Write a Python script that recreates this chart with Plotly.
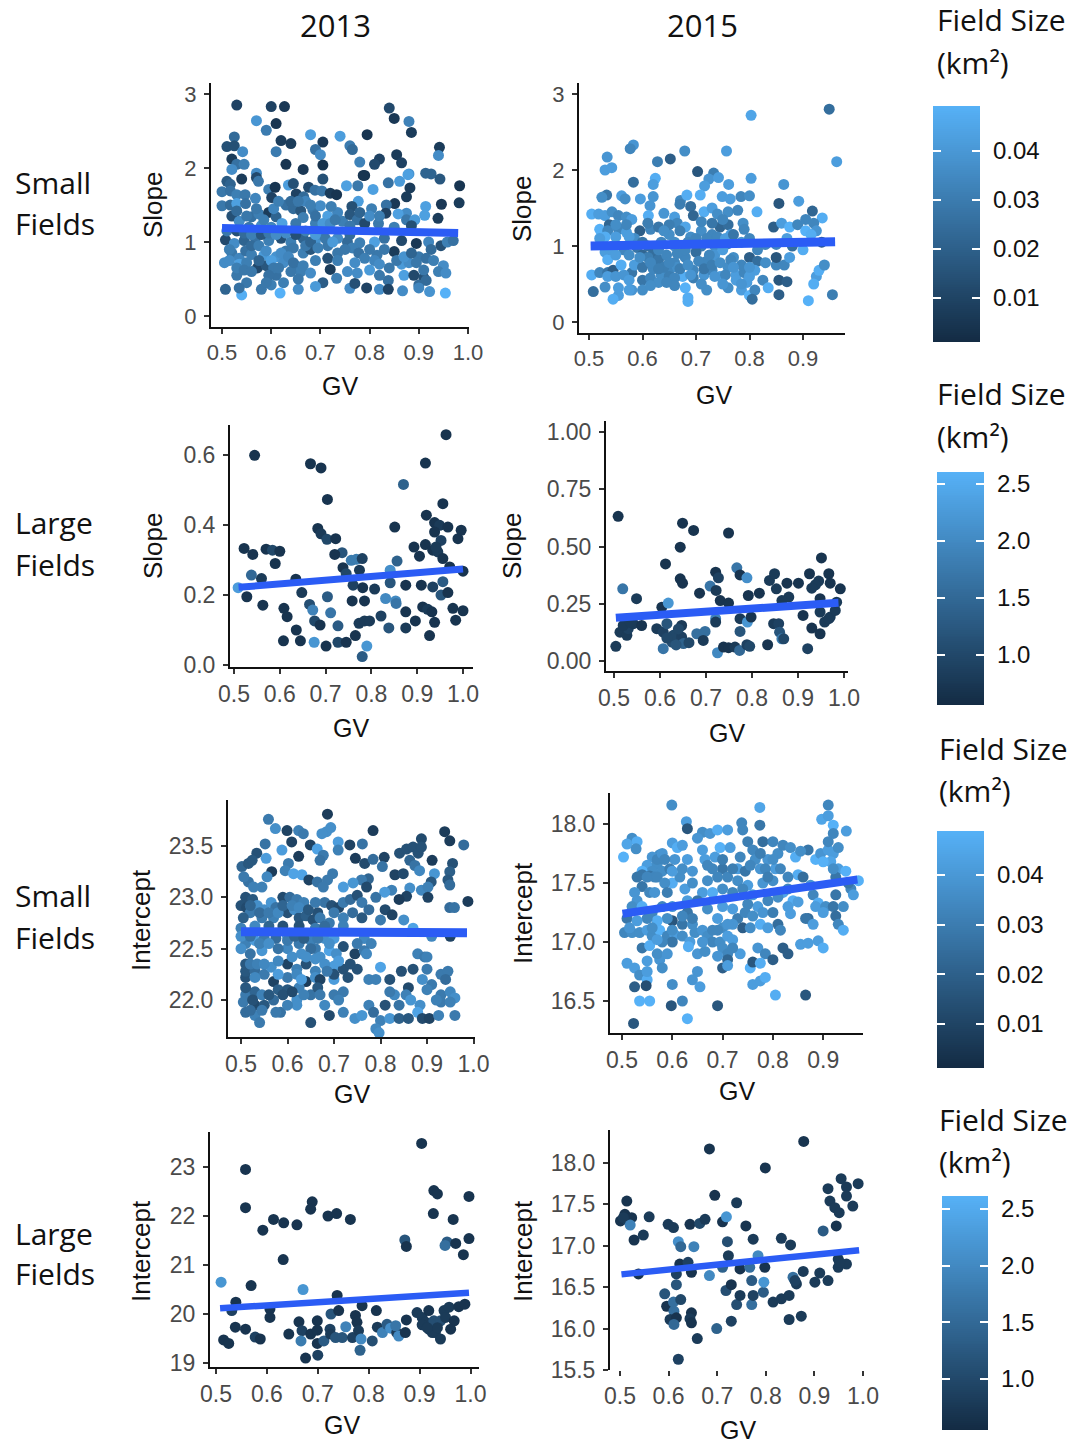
import numpy as np
import plotly.graph_objects as go

# Each point: (GV, value, field size)
small_2013_slope = [
(.53,2.85,.008),(.60,2.83,.008),(.627,2.83,.005),(.84,2.81,.01),(.85,2.67,.005),(.57,2.64,.033),(.59,2.51,.025),(.61,2.6,.004),(.88,2.63,.027),(.885,2.48,.006),
(.68,2.45,.035),(.74,2.43,.035),(.795,2.45,.004),(.525,2.42,.02),(.62,2.37,.006),(.64,2.33,.006),(.705,2.35,.005),(.51,2.29,.012),(.525,2.3,.012),(.542,2.22,.03),
(.61,2.22,.025),(.69,2.25,.022),(.7,2.18,.03),(.76,2.3,.025),(.765,2.25,.02),(.942,2.28,.006),(.94,2.17,.03),(.78,2.08,.027),(.82,2.12,.008),(.81,2.05,.01),
(.855,2.18,.006),(.865,2.07,.008),(.52,2.12,.006),(.53,2.05,.022),(.545,2.05,.026),(.52,1.98,.03),(.63,2.05,.004),(.665,1.98,.005),(.705,2.04,.003),(.57,1.93,.03),
(.925,1.92,.018),(.88,1.92,.032),(.79,1.9,.004),(.57,1.87,.01),(.54,1.85,.006),(.705,1.85,.012),(.51,1.82,.015),(.574,1.82,.024),(.517,1.78,.018),(.595,1.71,.026),
(.608,1.74,.004),(.601,1.6,.008),(.635,1.77,.035),(.645,1.79,.012),(.651,1.65,.008),(.676,1.74,.01),(.666,1.61,.02),(.689,1.7,.022),(.703,1.69,.024),(.72,1.66,.006),
(.733,1.64,.004),(.753,1.76,.036),(.776,1.76,.024),(.807,1.71,.036),(.777,1.55,.035),(.764,1.48,.012),(.787,1.9,.004),(.838,1.8,.022),(.861,1.82,.034),(.878,1.91,.036),
(.882,1.73,.006),(.875,1.61,.006),(.914,1.93,.018),(.943,1.85,.014),(.983,1.76,.004),(.982,1.53,.006),(.946,1.51,.005),(.939,1.32,.006),(.914,1.48,.036),(.912,1.36,.036),
(.851,1.52,.005),(.834,1.5,.022),(.875,1.39,.03),(.858,1.38,.036),(.833,1.39,.008),(.804,1.45,.026),(.818,1.25,.024),(.875,1.3,.024),(.892,1.3,.034),(.5,1.68,.024),
(.517,1.69,.022),(.53,1.64,.026),(.547,1.64,.024),(.5,1.49,.024),(.517,1.5,.02),(.53,1.52,.036),(.568,1.59,.028),(.548,1.52,.022),(.52,1.35,.012),(.535,1.28,.03),
(.56,1.34,.022),(.575,1.38,.026),(.595,1.4,.006),(.61,1.34,.018),(.63,1.5,.022),(.645,1.45,.02),(.622,1.25,.036),(.66,1.42,.014),(.67,1.55,.028),(.665,1.33,.026),
(.685,1.43,.024),(.7,1.49,.03),(.715,1.35,.036),(.735,1.4,.028),(.745,1.28,.026),(.722,1.48,.026),(.76,1.37,.014),(.775,1.3,.022),(.79,1.25,.01),(.8,1.35,.03),
(.69,1.25,.026),(.65,1.25,.024),(.6,1.2,.028),(.555,1.2,.024),(.58,1.22,.03),(.507,1.03,.01),(.525,.98,.03),(.545,1.02,.018),(.568,1.05,.022),(.595,1.02,.026),
(.62,1.05,.012),(.64,1.0,.026),(.665,1.05,.018),(.69,1.02,.032),(.715,.95,.024),(.735,1.05,.03),(.755,1.0,.02),(.78,.99,.026),(.81,1.0,.036),(.83,1.05,.022),
(.865,1.02,.01),(.895,.98,.005),(.92,1.0,.028),(.945,.95,.012),(.958,1.0,.026),(.97,1.02,.022),(.52,.85,.024),(.535,.78,.028),(.548,.88,.022),(.56,.83,.026),
(.585,.82,.034),(.61,.8,.032),(.63,.88,.024),(.645,.92,.024),(.665,.85,.026),(.68,.9,.014),(.715,.78,.012),(.735,.85,.024),(.765,.92,.026),(.778,.85,.022),
(.815,.82,.024),(.85,.87,.006),(.865,.7,.034),(.88,.72,.03),(.9,.8,.024),(.915,.78,.022),(.93,.75,.026),(.95,.68,.03),(.505,.72,.03),(.535,.7,.036),
(.55,.72,.026),(.572,.65,.01),(.59,.68,.014),(.625,.72,.03),(.65,.68,.024),(.69,.75,.026),(.72,.63,.006),(.755,.6,.03),(.775,.58,.03),(.8,.62,.034),
(.82,.55,.024),(.87,.55,.036),(.89,.55,.01),(.91,.52,.012),(.94,.6,.026),(.955,.58,.03),(.53,.55,.024),(.55,.45,.024),(.61,.55,.022),(.625,.45,.026),
(.66,.6,.026),(.68,.58,.03),(.705,.45,.016),(.733,.51,.026),(.76,.375,.03),(.77,.44,.012),(.838,.48,.022),(.9,.42,.02),(.915,.48,.02),(.507,.36,.018),
(.54,.285,.04),(.535,.38,.022),(.58,.36,.024),(.6,.42,.026),(.618,.31,.042),(.655,.36,.03),(.69,.40,.034),(.794,.38,.008),(.82,.36,.03),(.838,.36,.008),
(.867,.34,.03),(.90,.38,.028),(.922,.33,.032),(.954,.31,.044),
(.515,.9,.026),(.515,.75,.03),(.53,.65,.026),(.545,.62,.024),(.56,.6,.024),(.56,.95,.02),(.575,.95,.026),(.575,.75,.018),(.59,.88,.03),(.6,.75,.036),
(.605,.65,.024),(.595,.55,.022),(.59,.45,.024),(.615,.65,.024),(.62,.85,.03),(.635,.8,.028),(.64,.6,.024),(.645,.72,.022),(.655,.5,.024),(.665,.68,.026),
(.67,.95,.024),(.68,1.0,.018),(.695,.92,.026),(.7,1.1,.03),(.71,1.05,.024),(.725,1.0,.034),(.735,.75,.026),(.75,.9,.024),(.76,1.1,.02),(.77,.72,.03),
(.79,.78,.026),(.8,.9,.024),(.81,.75,.028),(.82,.7,.03),(.83,.9,.024),(.84,.65,.024),(.855,.75,.024),(.87,.8,.032),(.885,.85,.018),(.895,.72,.024),
(.91,.62,.024),(.925,.9,.02),(.51,1.15,.024),(.53,1.15,.012),(.545,1.12,.02),(.56,1.1,.026),(.58,1.1,.014),(.595,1.12,.024),(.61,1.1,.03),(.63,1.12,.03),
(.65,1.1,.012),(.67,1.15,.026),(.69,1.1,.034),(.53,1.42,.02),(.55,1.35,.024),(.57,1.45,.024),(.585,1.3,.026),(.605,1.45,.028),(.615,1.55,.026),(.64,1.55,.02),
(.655,1.55,.024),(.68,1.5,.026),(.69,1.35,.022),(.705,1.25,.034),(.72,1.25,.03),(.73,1.3,.024),(.76,1.22,.024),(.78,1.4,.018),(.82,1.35,.026),(.85,1.2,.026),
(.885,1.22,.012),
]
small_2015_slope = [
(.949,2.8,.018),(.803,2.72,.032),(.963,2.11,.03),(.583,2.33,.028),(.577,2.28,.024),(.534,2.17,.028),(.53,2.0,.03),(.5425,2.03,.03),(.628,2.11,.022),(.652,2.145,.014),
(.679,2.25,.026),(.757,2.25,.03),(.703,1.98,.012),(.733,1.96,.022),(.724,1.88,.028),(.742,1.9,.03),(.803,1.89,.03),(.864,1.81,.028),(.583,1.84,.018),(.624,1.89,.034),
(.62,1.81,.03),(.716,1.79,.03),(.761,1.81,.03),(.533,1.67,.02),(.524,1.64,.026),(.561,1.66,.03),(.5675,1.62,.026),(.596,1.62,.03),(.62,1.65,.028),(.614,1.53,.028),
(.671,1.6,.024),(.683,1.67,.034),(.708,1.67,.034),(.749,1.65,.03),(.764,1.62,.03),(.784,1.65,.024),(.80,1.66,.026),(.892,1.59,.03),(.855,1.56,.012),(.814,1.45,.034),
(.9175,1.46,.016),(.936,1.37,.034),(.505,1.42,.034),(.518,1.42,.03),(.53,1.4,.03),(.543,1.45,.026),(.555,1.4,.024),(.57,1.38,.026),(.58,1.35,.03),(.611,1.4,.034),
(.64,1.43,.028),(.66,1.38,.03),(.67,1.55,.022),(.69,1.52,.018),(.695,1.4,.016),(.715,1.45,.034),(.73,1.5,.03),(.74,1.42,.026),(.76,1.45,.026),(.778,1.47,.024),
(.788,1.3,.026),(.79,1.22,.024),(.845,1.25,.014),(.86,1.3,.03),(.875,1.25,.036),(.89,1.28,.024),(.905,1.35,.024),(.92,1.3,.024),(.925,1.2,.028),(.905,1.2,.036),
(.52,1.22,.036),(.538,1.28,.016),(.535,1.2,.024),(.555,1.22,.024),(.57,1.18,.03),(.595,1.2,.014),(.615,1.22,.024),(.63,1.25,.02),(.65,1.15,.026),(.665,1.3,.024),
(.68,1.25,.032),(.69,1.12,.026),(.71,1.2,.026),(.73,1.15,.024),(.745,1.25,.016),(.76,1.28,.018),(.765,1.15,.03),(.85,1.02,.024),(.87,1.1,.03),(.915,1.15,.034),
(.525,1.05,.03),(.545,1.0,.028),(.565,.95,.024),(.59,.98,.02),(.61,1.0,.018),(.635,1.05,.024),(.66,1.0,.026),(.685,1.05,.024),(.71,1.0,.022),(.735,1.0,.026),
(.76,1.03,.024),(.785,1.05,.028),(.83,1.02,.024),(.88,1.0,.018),(.9,.95,.034),(.935,1.05,.012),(.53,.92,.03),(.535,.82,.034),(.6,.88,.016),(.62,.9,.018),
(.63,.82,.02),(.645,.88,.024),(.66,.78,.024),(.68,.85,.024),(.7,.92,.018),(.72,.8,.024),(.735,.88,.028),(.75,.95,.03),(.77,.85,.026),(.8,.85,.014),
(.815,.8,.018),(.83,.78,.026),(.85,.75,.024),(.865,.75,.024),(.875,.85,.03),(.85,.85,.012),(.505,.62,.034),(.52,.65,.024),(.535,.65,.02),(.545,.68,.014),
(.58,.65,.02),(.585,.75,.03),(.6,.55,.02),(.615,.58,.024),(.635,.62,.026),(.65,.68,.024),(.665,.72,.026),(.675,.6,.034),(.695,.68,.024),(.715,.62,.028),
(.73,.68,.024),(.745,.6,.03),(.76,.72,.026),(.775,.62,.03),(.79,.65,.024),(.81,.68,.03),(.825,.55,.024),(.835,.45,.034),(.855,.55,.012),(.87,.53,.014),
(.925,.6,.03),(.93,.68,.034),(.94,.75,.026),(.92,.5,.034),(.53,.46,.026),(.508,.4,.018),(.555,.35,.03),(.545,.3,.034),(.58,.42,.028),(.6,.42,.026),
(.63,.52,.026),(.68,.45,.04),(.685,.32,.034),(.685,.27,.034),(.72,.42,.026),(.76,.45,.026),(.785,.42,.03),(.8,.35,.036),(.81,.42,.024),(.805,.3,.018),
(.795,.52,.03),(.855,.36,.014),(.91,.28,.04),(.955,.36,.022),
(.55,1.28,.026),(.57,1.28,.024),(.585,1.1,.026),(.6,1.05,.02),(.61,.85,.022),(.6,.72,.02),(.62,.7,.024),(.64,.72,.022),(.65,.6,.022),(.66,.58,.024),
(.67,.7,.022),(.685,.75,.026),(.695,.58,.022),(.705,.8,.024),(.715,.7,.02),(.725,.88,.024),(.73,.75,.022),(.745,.78,.026),(.755,.62,.024),(.765,.82,.024),
(.775,.55,.03),(.785,.75,.024),(.8,.6,.03),(.815,.95,.024),(.535,.6,.03),(.55,.6,.028),(.565,.62,.028),(.575,.55,.03),(.56,.75,.034),(.54,.95,.03),
(.55,.88,.03),(.575,.88,.026),(.595,.85,.026),(.615,.78,.024),(.63,.7,.022),(.65,.78,.024),(.665,.9,.024),(.68,.95,.024),(.7,1.1,.024),(.72,1.1,.024),
(.74,1.12,.024),(.755,1.1,.03),(.77,1.15,.02),(.8,1.1,.024),(.67,1.2,.022),(.65,1.28,.022),(.64,1.2,.026),(.61,1.3,.022),(.575,1.12,.03),(.55,1.12,.03),
(.53,1.12,.034),(.52,1.1,.03),(.71,1.32,.024),(.73,1.3,.02),(.75,1.35,.024),(.66,1.05,.026),(.63,.95,.024),(.735,.6,.028),(.69,.62,.028),(.71,.5,.026),
(.75,.5,.028),(.77,.72,.028),(.8,.72,.028),(.785,.5,.028),(.66,.48,.024),(.645,.52,.024),(.615,.48,.026),(.575,.42,.03),(.555,.45,.03),
]
large_2013_slope = [
(.545,.599,.7),(.667,.575,.7),(.69,.563,.7),(.704,.473,.7),(.683,.39,.7),(.69,.375,.8),(.703,.359,1.0),(.722,.361,.7),(.522,.333,.7),(.541,.316,.7),
(.57,.331,.7),(.584,.328,1.0),(.6,.325,.7),(.59,.29,.7),(.538,.257,1.5),(.56,.247,.8),(.509,.221,2.3),(.528,.195,.7),(.563,.171,.7),(.635,.245,.7),
(.648,.207,.8),(.609,.162,.7),(.616,.138,.7),(.636,.1,.7),(.645,.069,.7),(.608,.069,.7),(.665,.173,1.1),(.672,.157,1.9),(.676,.126,1.0),(.688,.114,.7),
(.675,.065,2.2),(.701,.054,.7),(.704,.195,1.3),(.711,.149,1.7),(.727,.112,1.3),(.727,.065,1.0),(.745,.065,.7),(.738,.278,.7),(.745,.261,1.0),(.736,.321,1.2),
(.72,.316,.7),(.756,.299,1.8),(.767,.302,1.8),(.78,.304,.9),(.774,.271,.8),(.76,.228,.9),(.781,.221,.7),(.758,.183,.7),(.785,.183,.7),(.807,.217,.8),
(.765,.084,.7),(.773,.119,.8),(.785,.126,.8),(.796,.126,.8),(.78,.024,1.3),(.79,.054,2.2),(.821,.14,.9),(.838,.106,1.2),(.831,.19,2.0),(.853,.183,2.0),
(.854,.176,1.7),(.841,.235,1.2),(.841,.271,2.1),(.856,.297,1.4),(.851,.394,.7),(.87,.516,1.4),(.875,.228,.7),(.875,.152,.7),(.875,.106,.8),(.896,.126,.7),
(.893,.337,.7),(.909,.228,.7),(.92,.428,.7),(.918,.577,.7),(.918,.344,.7),(.905,.311,.7),(.912,.166,.7),(.923,.159,.8),(.932,.152,.7),(.934,.223,.9),
(.927,.084,.7),(.938,.122,.7),(.963,.658,.7),(.956,.461,.7),(.938,.407,.7),(.949,.399,.8),(.967,.394,.7),(.938,.38,.7),(.952,.356,.9),(.934,.328,.7),
(.945,.323,.8),(.941,.337,.8),(.956,.304,.7),(.956,.238,1.3),(.952,.2,1.2),(.967,.207,.7),(.971,.28,.7),(.978,.162,.7),(.984,.128,.7),(1.0,.155,.7),
(.989,.361,.7),(.996,.385,.7),(1.0,.268,.7),
]
large_2015_slope = [
(.509,.632,.7),(.519,.315,1.7),(.549,.272,.8),(.504,.064,.8),(.513,.126,.8),(.528,.112,.8),(.531,.141,.9),(.52,.155,.8),(.542,.163,.8),(.56,.155,.7),
(.535,.17,.8),(.649,.602,.7),(.673,.57,.7),(.644,.497,.7),(.612,.424,.7),(.749,.559,.7),(.644,.359,.7),(.649,.34,.7),(.686,.296,.7),(.604,.235,.7),
(.618,.253,2.2),(.593,.141,.8),(.607,.126,.9),(.615,.163,1.2),(.626,.083,1.1),(.607,.054,1.7),(.629,.112,1.0),(.647,.155,.8),(.647,.105,.9),(.651,.076,1.4),
(.663,.08,1.0),(.68,.119,1.6),(.698,.129,1.6),(.694,.09,.8),(.709,.327,1.7),(.721,.388,.7),(.727,.363,.9),(.722,.308,.8),(.731,.264,.7),(.749,.253,.7),
(.721,.185,1.9),(.721,.17,.8),(.725,.036,2.0),(.738,.061,.7),(.749,.058,.7),(.763,.061,.8),(.773,.046,1.5),(.767,.407,1.7),(.774,.376,.7),(.789,.363,2.1),
(.774,.185,.8),(.774,.129,1.2),(.79,.17,2.2),(.798,.192,.7),(.789,.071,.9),(.795,.064,1.0),(.792,.286,.7),(.816,.296,.7),(.834,.071,.7),(.838,.352,.8),
(.849,.381,.8),(.853,.315,.8),(.847,.163,.8),(.858,.163,.9),(.86,.126,1.2),(.865,.097,1.8),(.869,.097,1.0),(.876,.34,.7),(.88,.279,.8),(.865,.264,.8),
(.901,.34,.7),(.925,.381,.7),(.911,.199,.7),(.921,.054,.9),(.93,.144,.7),(.948,.119,.7),(.951,.45,.7),(.945,.349,.8),(.938,.333,.8),(.93,.318,.8),
(.948,.272,.7),(.948,.214,.8),(.967,.381,.7),(.97,.34,.7),(.958,.17,.8),(.97,.192,.8),(.981,.221,.8),(.992,.315,.7),(.984,.257,.8),(.967,.185,.8),
(.64,.14,1.0),(.615,.1,1.0),(.635,.07,1.2),
]
small_2013_intercept = [
(.686,23.81,.006),(.559,23.76,.024),(.574,23.67,.03),(.599,23.65,.008),(.624,23.65,.026),(.634,23.62,.024),(.684,23.64,.03),(.693,23.68,.03),(.674,23.62,.03),(.784,23.65,.006),
(.938,23.64,.006),(.949,23.55,.006),(.888,23.57,.01),(.979,23.51,.02),(.552,23.52,.022),(.609,23.54,.008),(.649,23.51,.008),(.709,23.54,.034),(.734,23.51,.008),(.761,23.52,.022),
(.664,23.47,.036),(.709,23.46,.026),(.677,23.41,.024),(.588,23.46,.034),(.534,23.43,.012),(.624,23.4,.006),(.554,23.38,.034),(.602,23.33,.024),(.67,23.36,.022),(.746,23.38,.006),
(.766,23.33,.01),(.784,23.37,.02),(.808,23.39,.008),(.841,23.43,.012),(.856,23.47,.012),(.87,23.49,.012),(.881,23.43,.012),(.888,23.49,.012),(.863,23.36,.018),(.874,23.31,.022),
(.911,23.36,.006),(.955,23.33,.012),(.502,23.3,.018),(.516,23.33,.014),(.524,23.36,.014),(.804,23.3,.022),(.595,23.26,.026),(.613,23.23,.036),(.631,23.22,.036),(.566,23.25,.006),
(.556,23.2,.028),(.831,23.22,.008),(.849,23.23,.01),(.884,23.26,.028),(.916,23.23,.032),(.949,23.25,.016),(.945,23.17,.014),(.697,23.23,.024),(.686,23.17,.024),(.646,23.17,.008),
(.664,23.15,.022),(.774,23.18,.018),(.759,23.17,.024),(.741,23.14,.032),(.72,23.1,.034),(.677,23.1,.024),(.909,23.15,.014),(.949,23.12,.02),(.516,23.15,.022),(.506,23.2,.024),
(.545,23.1,.026),(.527,23.1,.026),(.77,23.1,.01),(.824,23.07,.026),(.809,23.05,.034),(.863,23.09,.03),(.888,23.07,.028),(.902,23.1,.026),(.902,23.0,.008),(.856,23.01,.008),
(.988,22.96,.006),(.949,22.9,.02),(.959,22.9,.022),(.51,23.0,.012),(.525,22.98,.014),(.5,22.92,.012),(.512,22.9,.01),(.535,22.92,.03),(.52,22.85,.024),(.505,22.8,.016),
(.55,22.88,.03),(.565,22.95,.032),(.575,22.9,.022),(.59,23.0,.01),(.605,23.0,.02),(.62,22.98,.024),(.635,22.95,.026),(.6,22.85,.012),(.615,22.88,.03),(.57,22.8,.026),
(.545,22.8,.024),(.625,22.8,.014),(.64,22.82,.016),(.655,22.78,.012),(.665,22.85,.012),(.68,22.95,.022),(.695,22.92,.012),(.71,22.9,.01),(.72,22.95,.024),(.735,22.98,.02),
(.75,23.02,.012),(.76,22.95,.024),(.775,22.88,.02),(.79,23.0,.022),(.81,22.88,.01),(.825,22.83,.008),(.84,22.98,.006),(.85,22.78,.03),(.8,22.78,.024),(.72,22.8,.026),
(.69,22.75,.024),(.5,22.7,.026),(.53,22.72,.028),(.56,22.72,.018),(.59,22.72,.012),(.625,22.72,.012),(.66,22.7,.024),(.87,22.7,.036),(.51,22.55,.026),(.53,22.58,.034),
(.55,22.6,.024),(.575,22.6,.02),(.6,22.62,.032),(.625,22.55,.024),(.65,22.58,.026),(.68,22.6,.03),(.7,22.6,.034),(.72,22.52,.012),(.765,22.6,.028),(.78,22.55,.026),
(.91,22.62,.028),(.95,22.62,.008),(.5,22.5,.03),(.52,22.45,.022),(.545,22.48,.032),(.6,22.5,.028),(.63,22.45,.03),(.66,22.5,.024),(.69,22.48,.036),(.745,22.45,.008),
(.765,22.48,.024),(.88,22.45,.026),(.895,22.42,.024),(.51,22.35,.014),(.51,22.22,.012),(.51,22.28,.014),(.53,22.28,.02),(.55,22.25,.024),(.565,22.32,.03),(.6,22.35,.008),
(.62,22.3,.026),(.64,22.35,.012),(.66,22.28,.026),(.7,22.33,.034),(.72,22.3,.012),(.73,22.22,.012),(.87,22.3,.012),(.845,22.28,.012),(.9,22.3,.024),(.93,22.25,.024),
(.945,22.28,.024),(.8,22.32,.036),(.53,22.22,.028),(.57,22.18,.008),(.6,22.22,.024),(.62,22.25,.028),(.64,22.18,.006),(.66,22.22,.03),(.67,22.2,.008),(.7,22.2,.034),
(.775,22.2,.026),(.79,22.2,.026),(.82,22.2,.012),(.89,22.2,.03),(.91,22.15,.024),(.94,22.2,.02),(.86,22.12,.01),(.51,22.05,.024),(.53,22.08,.018),(.545,22.05,.026),
(.58,22.1,.016),(.6,22.1,.014),(.625,22.12,.026),(.65,22.05,.022),(.7,22.05,.024),(.72,22.08,.024),(.71,22.0,.026),(.83,22.05,.028),(.855,22.05,.026),(.93,22.05,.024),
(.95,22.08,.028),(.96,22.02,.03),(.505,21.98,.024),(.53,21.95,.01),(.55,21.95,.014),(.57,22.0,.02),(.62,22.0,.03),(.68,21.95,.028),(.775,21.95,.026),(.81,21.95,.012),
(.865,22.0,.032),(.885,21.95,.03),(.93,21.98,.024),(.95,21.98,.026),(.51,21.88,.02),(.53,21.85,.026),(.54,21.78,.024),(.585,21.88,.022),(.65,21.78,.012),(.69,21.85,.01),
(.72,21.88,.026),(.745,21.82,.03),(.76,21.85,.032),(.785,21.88,.02),(.8,21.8,.026),(.82,21.82,.032),(.84,21.82,.016),(.86,21.82,.014),(.88,21.88,.036),(.89,21.82,.01),
(.905,21.82,.008),(.925,21.85,.026),(.96,21.85,.024),(.79,21.72,.028),(.797,21.68,.03),
(.52,22.92,.018),(.54,22.85,.02),(.56,22.85,.024),(.58,22.85,.028),(.59,22.92,.018),(.61,22.92,.026),(.625,22.9,.028),(.645,22.88,.014),(.66,22.95,.024),(.67,22.8,.024),
(.68,22.72,.02),(.7,22.85,.024),(.72,22.72,.026),(.74,22.85,.02),(.76,22.8,.014),(.5,22.62,.03),(.52,22.62,.022),(.54,22.55,.026),(.56,22.55,.03),(.58,22.5,.022),
(.6,22.58,.024),(.615,22.62,.018),(.635,22.6,.016),(.65,22.5,.02),(.665,22.6,.024),(.67,22.42,.03),(.69,22.55,.03),(.705,22.45,.03),(.71,22.38,.034),(.52,22.35,.024),
(.535,22.35,.026),(.55,22.35,.028),(.58,22.38,.028),(.61,22.42,.03),(.64,22.42,.03),(.66,22.4,.03),(.68,22.35,.03),(.7,22.25,.012),(.58,22.25,.034),(.63,22.2,.034),
(.665,22.12,.014),(.685,22.28,.024),(.51,22.12,.014),(.525,22.0,.012),(.545,21.9,.024),(.56,22.05,.014),(.59,22.05,.012),(.61,22.08,.01),(.635,22.05,.026),(.67,22.05,.024),
(.62,21.95,.03),(.6,21.95,.026),(.575,21.88,.024),(.52,21.9,.02),(.75,22.3,.012),(.735,22.35,.012),(.82,22.08,.024),(.84,21.95,.022),(.9,22.1,.026),(.92,22.0,.026),
(.9,22.42,.026),(.75,22.55,.024),(.77,22.45,.028),
]
small_2015_intercept = [
(.599,18.16,.026),(.628,18.02,.03),(.63,17.96,.012),(.774,18.14,.032),(.91,18.16,.024),(.897,18.04,.032),(.91,18.07,.03),(.92,17.99,.04),(.946,17.94,.03),(.738,18.01,.024),
(.74,17.95,.024),(.774,17.99,.02),(.66,17.93,.026),(.65,17.88,.028),(.675,17.92,.028),(.69,17.95,.034),(.71,17.95,.03),(.52,17.88,.026),(.53,17.85,.034),(.51,17.83,.032),
(.528,17.79,.026),(.503,17.72,.038),(.6,17.84,.03),(.61,17.8,.034),(.62,17.82,.03),(.605,17.7,.028),(.575,17.74,.026),(.56,17.72,.028),(.55,17.65,.03),(.57,17.66,.026),
(.58,17.6,.026),(.595,17.62,.022),(.56,17.6,.026),(.54,17.6,.036),(.53,17.55,.02),(.54,17.57,.02),(.555,17.56,.02),(.565,17.55,.024),(.6,17.5,.034),(.615,17.55,.026),
(.625,17.45,.03),(.54,17.47,.02),(.555,17.42,.024),(.525,17.42,.028),(.53,17.35,.028),(.66,17.78,.03),(.665,17.7,.03),(.685,17.72,.03),(.695,17.8,.036),(.67,17.65,.024),
(.7,17.62,.02),(.73,17.62,.03),(.735,17.72,.024),(.75,17.85,.022),(.76,17.78,.024),(.765,17.7,.026),(.78,17.85,.018),(.8,17.85,.024),(.81,17.75,.026),(.79,17.7,.028),
(.775,17.62,.028),(.805,17.62,.03),(.82,17.82,.024),(.835,17.8,.026),(.845,17.72,.034),(.85,17.57,.034),(.87,17.78,.02),(.855,17.77,.026),(.885,17.7,.036),(.895,17.75,.028),
(.91,17.78,.03),(.92,17.75,.03),(.91,17.85,.024),(.93,17.62,.03),(.945,17.6,.036),(.925,17.55,.02),(.69,17.55,.024),(.71,17.55,.024),(.73,17.52,.026),(.75,17.48,.03),
(.67,17.52,.026),(.66,17.42,.03),(.64,17.5,.026),(.63,17.35,.03),(.65,17.35,.02),(.68,17.42,.034),(.72,17.42,.024),(.76,17.4,.03),(.78,17.5,.028),(.8,17.52,.026),
(.82,17.42,.032),(.86,17.55,.018),(.88,17.4,.024),(.89,17.33,.034),(.955,17.45,.024),(.97,17.52,.04),(.95,17.5,.02),(.96,17.4,.03),(.875,17.48,.028),(.84,17.35,.034),
(.83,17.3,.03),(.79,17.35,.024),(.77,17.3,.03),(.75,17.32,.024),(.72,17.28,.03),(.7,17.3,.03),(.67,17.28,.026),(.63,17.25,.02),(.6,17.3,.028),(.58,17.3,.024),
(.52,17.3,.026),(.54,17.3,.034),(.56,17.25,.024),(.51,17.2,.02),(.835,17.24,.03),(.85,17.34,.03),(.87,17.2,.018),(.885,17.3,.03),(.905,17.3,.026),(.92,17.3,.02),
(.925,17.22,.018),(.93,17.15,.024),(.94,17.1,.034),(.6,17.18,.012),(.62,17.15,.02),(.69,17.2,.03),(.7,17.12,.026),(.73,17.2,.022),(.74,17.12,.014),(.755,17.12,.026),
(.775,17.15,.034),(.79,17.12,.03),(.81,17.15,.018),(.815,17.1,.024),(.505,17.08,.024),(.52,17.08,.026),(.535,17.08,.026),(.55,17.1,.03),(.56,17.05,.026),(.575,17.1,.036),
(.59,17.05,.024),(.605,17.06,.03),(.62,17.05,.026),(.635,17.0,.03),(.645,17.08,.026),(.66,17.1,.028),(.67,17.05,.026),(.68,17.0,.024),(.695,17.0,.026),(.71,17.05,.03),
(.72,17.02,.03),(.6,17.0,.02),(.58,17.0,.024),(.632,16.96,.034),(.7,16.95,.026),(.71,16.9,.024),(.735,16.9,.03),(.65,16.9,.028),(.665,16.92,.026),(.77,16.95,.028),
(.785,16.9,.024),(.8,16.85,.014),(.82,16.95,.014),(.83,16.9,.014),(.855,16.98,.03),(.87,16.99,.03),(.89,17.01,.03),(.9,16.95,.034),(.54,16.95,.02),(.555,16.97,.034),
(.575,16.85,.028),(.57,16.9,.026),(.55,16.84,.03),(.51,16.82,.03),(.525,16.78,.03),(.58,16.78,.026),(.71,16.85,.016),(.7,16.78,.014),(.71,16.8,.03),(.755,16.78,.036),
(.76,16.83,.012),(.775,16.82,.034),(.65,16.75,.028),(.64,16.68,.028),(.655,16.62,.03),(.535,16.72,.026),(.55,16.68,.034),(.525,16.62,.014),(.548,16.63,.01),(.6,16.64,.026),
(.76,16.64,.03),(.775,16.67,.03),(.785,16.7,.034),(.805,16.55,.034),(.865,16.55,.012),(.535,16.5,.038),(.555,16.5,.038),(.62,16.5,.024),(.598,16.46,.012),(.69,16.46,.012),
(.63,16.35,.036),(.523,16.31,.012),
(.57,17.7,.024),(.58,17.75,.028),(.585,17.7,.024),(.55,17.55,.024),(.57,17.55,.024),(.585,17.5,.026),(.59,17.42,.022),(.565,17.42,.028),(.6,17.6,.03),(.63,17.7,.03),
(.62,17.62,.026),(.64,17.6,.028),(.68,17.62,.024),(.7,17.7,.022),(.715,17.8,.03),(.72,17.62,.022),(.745,17.6,.02),(.755,17.65,.024),(.775,17.75,.022),(.785,17.62,.024),
(.8,17.7,.026),(.815,17.62,.024),(.83,17.55,.024),(.79,17.55,.022),(.74,17.45,.024),(.7,17.45,.026),(.81,17.38,.026),(.83,17.45,.024),(.745,17.25,.024),(.76,17.22,.026),
(.78,17.25,.028),(.8,17.25,.022),(.72,17.15,.028),(.69,17.1,.024),(.71,17.15,.028),(.68,17.1,.024),(.64,17.15,.026),(.64,17.2,.022),(.62,17.22,.024),(.59,17.2,.026),
(.57,17.18,.034),(.55,17.2,.024),(.53,17.18,.03),(.515,17.12,.028),(.56,17.12,.026),(.6,17.1,.026),(.57,17.02,.03),(.66,17.0,.028),(.69,16.88,.028),(.72,16.95,.024),
(.59,16.9,.028),(.55,16.75,.03),(.92,17.92,.024),(.93,17.8,.026),(.915,17.68,.032),(.92,17.62,.026),(.9,17.68,.036),(.925,17.4,.02),(.94,17.3,.026),(.865,17.2,.02),
(.88,17.15,.03),(.9,17.25,.03),
]
large_2013_intercept = [
(.904,23.48,.7),(.558,22.95,.7),(.558,22.17,.7),(.689,22.29,.7),(.686,22.14,.7),(.72,22.0,.7),(.737,22.05,.7),(.764,21.93,.7),(.613,21.93,.7),(.633,21.86,.7),
(.592,21.71,.7),(.659,21.82,.7),(.632,21.11,.7),(.569,20.58,.7),(.51,20.65,2.2),(.671,20.5,2.2),(.927,22.05,.7),(.928,22.52,.7),(.935,22.45,.7),(.997,22.4,.7),
(.966,21.93,.7),(.871,21.51,1.2),(.874,21.38,.7),(.954,21.47,1.3),(.95,21.4,1.6),(.971,21.44,.7),(.997,21.54,.7),(.986,21.21,.7),(.539,20.24,.7),(.531,20.07,.9),
(.606,20.1,.7),(.606,19.93,.7),(.515,19.47,.7),(.525,19.4,.7),(.538,19.73,.7),(.558,19.69,.7),(.577,19.53,.9),(.587,19.49,.7),(.643,19.59,.7),(.663,19.84,.7),
(.669,19.66,.9),(.667,19.45,1.8),(.676,19.1,.7),(.686,19.59,.7),(.699,19.86,.7),(.699,19.67,.7),(.699,19.4,.7),(.7,19.16,.9),(.712,19.45,1.3),(.726,20.0,1.2),
(.724,19.69,.9),(.725,19.59,.8),(.735,19.52,1.2),(.741,20.07,.7),(.748,19.52,1.2),(.755,19.74,1.9),(.768,19.52,.9),(.774,19.97,.7),(.777,19.83,.7),(.78,19.66,.8),
(.785,19.49,2.0),(.783,19.26,1.4),(.787,20.17,.7),(.807,19.45,1.1),(.815,20.07,.7),(.817,19.73,.8),(.827,19.62,1.9),(.836,19.79,1.3),(.843,19.71,2.1),(.855,19.62,.8),
(.859,19.55,2.0),(.853,19.76,1.7),(.874,19.88,.7),(.872,19.62,.7),(.895,20.03,.8),(.905,19.93,.8),(.918,20.07,.7),(.912,19.83,.8),(.918,19.69,.8),(.928,19.86,1.1),
(.931,19.62,.8),(.941,19.49,.8),(.941,19.86,1.1),(.948,20.07,.8),(.958,20.14,.8),(.951,19.93,.8),(.968,19.86,.7),(.961,19.69,.7),(.977,20.15,.7),(.989,20.2,.7),
(.738,20.38,.7),(.905,19.78,.8),(.925,19.62,.8),(.935,19.72,.8),(.915,19.72,.8),
]
large_2015_intercept = [
(.514,17.54,.7),(.501,17.3,.7),(.51,17.38,.7),(.514,17.32,.9),(.524,17.34,.7),(.507,17.34,.8),(.521,17.25,1.9),(.529,17.07,.7),(.548,17.13,.8),(.56,17.35,.8),
(.599,17.26,.8),(.61,17.22,.8),(.684,18.17,.7),(.695,17.61,.7),(.644,17.26,.7),(.664,17.27,1.0),(.675,17.32,.8),(.711,17.29,.7),(.719,17.35,2.2),(.74,17.52,.8),
(.721,17.05,1.1),(.759,17.24,.7),(.774,17.08,.8),(.799,17.94,.7),(.878,18.26,.7),(.832,17.09,.8),(.851,17.01,.8),(.62,17.05,2.1),(.625,16.99,1.5),(.652,16.99,1.9),
(.623,16.78,.7),(.64,16.8,.9),(.616,16.66,.9),(.647,16.68,.7),(.538,16.66,.7),(.684,16.64,2.0),(.723,16.88,.8),(.711,16.74,1.4),(.747,16.72,.7),(.767,16.74,1.6),
(.784,16.88,2.0),(.798,16.74,.7),(.616,16.53,1.2),(.592,16.42,1.2),(.596,16.27,.7),(.61,16.32,1.6),(.625,16.35,1.0),(.611,16.21,1.6),(.603,16.11,.8),(.616,16.13,.7),
(.611,16.05,1.5),(.647,16.19,.7),(.644,16.12,.8),(.647,16.07,.7),(.659,15.88,.8),(.62,15.63,.9),(.699,16.0,1.4),(.729,16.09,.9),(.718,16.46,1.1),(.729,16.53,.7),
(.74,16.29,1.1),(.747,16.4,.8),(.771,16.58,1.3),(.771,16.29,1.6),(.774,16.4,.9),(.795,16.44,1.3),(.796,16.56,2.2),(.815,16.32,.8),(.832,16.36,.8),(.848,16.4,.8),
(.848,16.11,.8),(.873,16.15,.8),(.856,16.62,1.6),(.863,16.54,.8),(.877,16.69,.8),(.901,16.56,.8),(.911,16.67,.8),(.928,16.58,.8),(.918,17.18,1.3),(.945,17.24,.7),
(.928,17.69,.8),(.932,17.54,.8),(.942,17.46,.8),(.951,17.4,.8),(.955,17.81,.8),(.966,17.71,.8),(.966,17.6,.8),(.979,17.48,.8),(.99,17.75,.8),(.949,16.84,.8),
(.949,16.74,.8),(.966,16.78,.8),(.952,16.8,.8),(.86,16.58,.9),
]

# Fitted line end points: GV and value
fit_gv = {"p1": [.5, .98], "p2": [.503, .96], "p3": [.51, 1.0], "p4": [.504, .988],
          "p5": [.5, .986], "p6": [.501, .968], "p7": [.508, .997], "p8": [.503, .992]}
fit_val = {"p1": [1.19, 1.12], "p2": [1.0, 1.057], "p3": [.222, .274], "p4": [.189, .254],
           "p5": [22.665, 22.655], "p6": [17.24, 17.53], "p7": [20.117, 20.434], "p8": [16.655, 16.947]}

gv_ticks = [.5, .6, .7, .8, .9, 1.0]
W, H = 1086, 1444
SCALE = [[0, "#132B43"], [1, "#56B1F7"]]
LINE = "#2B5CF5"
SANS = "Liberation Sans"
TEXT = "Open Sans"
TICK = "#4A4A4A"

panels = [
 ("p1", small_2013_slope, "Slope", [0,1,2,3], ["0","1","2","3"], (211,469,83,327), (222,49.2), (0,316,3,94), gv_ticks, (.001,.041), 8, (340,386), 22, (153,205)),
 ("p2", small_2015_slope, "Slope", [0,1,2,3], ["0","1","2","3"], (579,845,83,333), (589,53.5), (0,322,3,94), gv_ticks[:-1], (.001,.035), 9, (714,395), 22, (522,209)),
 ("p3", large_2013_slope, "Slope", [0,.2,.4,.6], ["0.0","0.2","0.4","0.6"], (230,473,425,667), (234,45.8), (0,665,.6,455), gv_ticks, (.56,2.62), 7, (351,728), 23, (153,546)),
 ("p4", large_2015_slope, "Slope", [0,.25,.5,.75,1], ["0.00","0.25","0.50","0.75","1.00"], (606,848,421,671), (614,46), (0,661,1,432), gv_ticks, (.56,2.62), 8, (727,733), 23, (512,546)),
 ("p5", small_2013_intercept, "Intercept", [22,22.5,23,23.5], ["22.0","22.5","23.0","23.5"], (228,475,800,1037), (241,46.5), (22,1000,23.5,846), gv_ticks, (.001,.04), 9, (352,1094), 23, (141,920)),
 ("p6", small_2015_intercept, "Intercept", [16.5,17,17.5,18], ["16.5","17.0","17.5","18.0"], (610,863,793,1033), (622,50.3), (16.5,1001,18,824), gv_ticks[:-1], (.001,.035), 8, (737,1091), 23, (523,913)),
 ("p7", large_2013_intercept, "Intercept", [19,20,21,22,23], ["19","20","21","22","23"], (210,479,1132,1367), (216,50.9), (19,1363,23,1167), gv_ticks, (.56,2.62), 6.5, (342,1425), 23, (141,1251)),
 ("p8", large_2015_intercept, "Intercept", [15.5,16,16.5,17,17.5,18], ["15.5","16.0","16.5","17.0","17.5","18.0"], (610,863,1130,1370), (620,48.6), (15.5,1370,18,1163), gv_ticks, (.56,2.62), 6.5, (738,1430), 23, (523,1251)),
]

bars = [
 ((933,980,106,342), [.01,.02,.03,.04], (.01,298,.04,151), "{:.2f}", (935,20)),
 ((937,984,472,705), [1.0,1.5,2.0,2.5], (1.0,655,2.5,484), "{:.1f}", (935,394)),
 ((937,984,831,1068), [.01,.02,.03,.04], (.01,1024,.04,875), "{:.2f}", (937,748)),
 ((942,988,1196,1430), [1.0,1.5,2.0,2.5], (1.0,1379,2.5,1209), "{:.1f}", (937,1119)),
]

px = lambda v: v / W
py = lambda v: 1 - v / H

fig = go.Figure()
layout = dict(width=W, height=H, margin=dict(l=0, r=0, t=0, b=0, pad=0), autosize=False,
              paper_bgcolor="white", plot_bgcolor="white", showlegend=False)
ann = []

def text(x, y, s, size, font=TEXT, anchor="left", angle=0, color="#111111"):
    ann.append(dict(x=px(x), y=py(y), xref="paper", yref="paper", text=s, showarrow=False,
                    xanchor=anchor, yanchor="middle", textangle=angle,
                    font=dict(family=font, size=size, color=color)))

for i, (key, pts, ylab, yt, ytt, box, xc, yc, xt, crange, lw, gvpos, fs, ylpos) in enumerate(panels, 1):
    L, R, T, B = box
    gv, val, size = zip(*pts)
    xa, ya = f"x{i}", f"y{i}"
    fig.add_trace(go.Scatter(x=gv, y=val, mode="markers", xaxis=xa, yaxis=ya, cliponaxis=False,
                             marker=dict(size=11, color=size, cmin=crange[0], cmax=crange[1],
                                         colorscale=SCALE, line=dict(width=0))))
    fig.add_trace(go.Scatter(x=fit_gv[key], y=fit_val[key], mode="lines", xaxis=xa, yaxis=ya,
                             line=dict(color=LINE, width=lw)))
    xr = [.5 + (L - xc[0]) / xc[1] * .1, .5 + (R - xc[0]) / xc[1] * .1]
    per = (yc[2] - yc[0]) / (yc[1] - yc[3])
    yr = [yc[0] + (yc[1] - B) * per, yc[0] + (yc[1] - T) * per]
    common = dict(showgrid=False, zeroline=False, showline=True, linecolor="#111111", linewidth=2,
                  ticks="outside", ticklen=5, tickwidth=1.5, tickcolor="#333333", automargin=False,
                  tickfont=dict(family=SANS, size=fs, color=TICK))
    layout[f"xaxis{i}"] = dict(common, domain=[px(L), px(R)], range=xr, anchor=ya, tickmode="array",
                               tickvals=xt, ticktext=[f"{v:.1f}" for v in xt])
    layout[f"yaxis{i}"] = dict(common, domain=[py(B), py(T)], range=yr, anchor=xa, tickmode="array",
                               tickvals=yt, ticktext=ytt, ticklabelstandoff=3)
    if key == "p8":
        layout[f"xaxis{i}"]["showline"] = False
    text(gvpos[0], gvpos[1], "GV", 25, SANS, "center")
    text(ylpos[0], ylpos[1], ylab, 26, SANS, "center", -90)

for j, (box, ticks, cal, fmt, tpos) in enumerate(bars, 9):
    L, R, T, B = box
    per = (cal[0] - cal[2]) / (cal[1] - cal[3])
    lo, hi = cal[0] + (B - cal[1]) * per, cal[0] + (T - cal[1]) * per
    levels = np.linspace(lo, hi, 120)
    fig.add_trace(go.Heatmap(x=[0, 1], y=levels, z=[[v, v] for v in levels], xaxis=f"x{j}", yaxis=f"y{j}",
                             colorscale=SCALE, zmin=lo, zmax=hi, showscale=False, hoverinfo="skip"))
    layout[f"xaxis{j}"] = dict(domain=[px(L), px(R)], range=[-.5, 1.5], visible=False, anchor=f"y{j}", automargin=False)
    layout[f"yaxis{j}"] = dict(domain=[py(B), py(T)], range=[lo, hi], anchor=f"x{j}", side="right", automargin=False,
                               showgrid=False, zeroline=False, showline=False, mirror="ticks",
                               ticks="inside", ticklen=8, tickwidth=1.5, tickcolor="white",
                               tickmode="array", tickvals=ticks, ticktext=[fmt.format(v) for v in ticks],
                               ticklabelstandoff=12, tickfont=dict(family=SANS, size=24, color="#111111"))
    text(tpos[0], tpos[1], "Field Size", 30)
    text(tpos[0], tpos[1] + 42, "(km²)", 30)

text(335, 25, "2013", 31, anchor="center")
text(702, 25, "2015", 31, anchor="center")
for y1, y2, lab in [(182, 223, "Small"), (523, 564, "Large"), (895, 937, "Small"), (1233, 1273, "Large")]:
    text(13, y1, lab, 30)
    text(13, y2, "Fields", 30)

layout["annotations"] = ann
fig.update_layout(**layout)
fig.write_html("out.html", config={"displayModeBar": False}, post_script="document.body.style.margin='0';")
